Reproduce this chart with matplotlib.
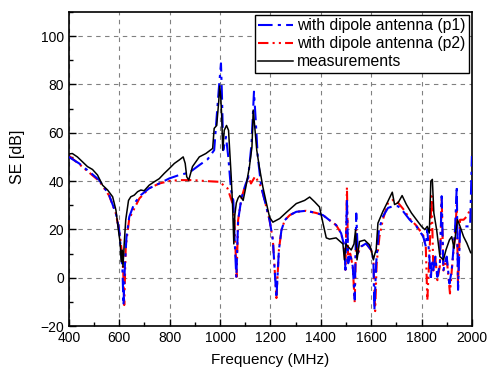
import numpy as np
import matplotlib
matplotlib.use("Agg")
import matplotlib.pyplot as plt
from matplotlib.ticker import MultipleLocator

plt.rcParams['font.family'] = ['Liberation Sans', 'DejaVu Sans']

# measurements (black)
meas_f = [400, 414, 434, 454, 474, 494, 514, 534, 554, 574, 587, 597, 604, 608, 612, 615,
          620, 626, 637, 646, 660, 673, 686, 699, 719, 739, 759, 779, 799, 819, 838, 854,
          862, 868, 876, 891, 918, 944, 971, 977, 987, 995, 999, 1003, 1007, 1011, 1017,
          1026, 1034, 1044, 1050, 1055, 1059, 1065, 1072, 1079, 1092, 1103, 1117, 1127,
          1132, 1138, 1146, 1156, 1170, 1184, 1197, 1210, 1237, 1263, 1303, 1336, 1356,
          1376, 1395, 1410, 1422, 1435, 1461, 1488, 1494, 1500, 1508, 1521, 1532, 1538,
          1544, 1554, 1574, 1594, 1602, 1609, 1615, 1620, 1627, 1647, 1667, 1684, 1693,
          1707, 1723, 1740, 1760, 1780, 1800, 1813, 1823, 1831, 1837, 1843, 1849, 1860,
          1873, 1887, 1897, 1911, 1920, 1929, 1937, 1943, 1953, 1967, 1980, 1995]
meas_se = [51.2, 51.4, 50, 48, 46, 44.8, 42.5, 38.3, 36.3, 33.5, 28, 19.7, 14.2, 6.6, 11.4, 4.5,
           14.2, 24, 32, 33.5, 34.2, 35.6, 36.3, 36, 38.3, 39.7, 41, 43.2, 45.2, 47.3, 48.7, 50,
           47.3, 41.8, 40.4, 46, 50, 51.4, 53.5, 61.8, 63, 72.8, 79.3, 75, 66.6, 52.8, 61,
           63, 61, 43, 30, 14, 26, 31, 33, 34, 32, 37.7, 46, 54.2,
           69.4, 62.5, 52.8, 46, 37.7, 31, 25, 23, 24.5, 27, 30.7, 32, 33.4,
           31.4, 29.3, 22, 16.5, 16, 16.5, 14, 7.4, 14, 12.9, 11.5, 14, 19.7,
           7.4, 15, 15.6, 13.6, 11, 7.4, 10, 11.5, 22.6, 27.5, 31.7, 35.4, 30.3,
           31, 34, 30.3, 26.8, 24, 21.25, 19.9, 21.25, 18.5, 40, 40.7, 26.8, 19.9,
           8.75, 7.4, 11.5, 15.7, 17, 12.2, 19.9, 24, 21.25, 17, 14.3, 10.4]

# with dipole antenna (p1), blue
p1_f = [400, 441, 481, 521, 560, 587, 600, 606, 613, 617, 623, 629, 640, 660, 686, 719,
        759, 799, 838, 878, 918, 951, 977, 984, 995, 1004, 1008, 1013, 1024, 1033, 1044,
        1053, 1059, 1065, 1072, 1085, 1098, 1112, 1125, 1135, 1142, 1150, 1164, 1184, 1197,
        1210, 1224, 1234, 1244, 1257, 1277, 1303, 1342, 1382, 1409, 1435, 1461, 1481, 1494,
        1498, 1504, 1509, 1517, 1527, 1535, 1541, 1547, 1560, 1580, 1600, 1609, 1613, 1620,
        1631, 1647, 1667, 1687, 1707, 1727, 1753, 1780, 1807, 1817, 1823, 1831, 1837, 1841,
        1847, 1855, 1863, 1873, 1880, 1887, 1900, 1911, 1920, 1933, 1940, 1945, 1953, 1967,
        1980, 1993, 2000]
p1_se = [50, 47.3, 43.9, 40.4, 34.2, 26.6, 19.7, 12.8, 3.2, -11.3, 6, 17, 25.2, 30.8, 34.2, 37,
         39, 41.1, 42.5, 43.5, 46.6, 49, 52.8, 62.5, 77.6, 88.7, 75, 52.8, 58.3, 50, 36.3,
         32, 14, 0, 23.8, 32.7, 37.5, 41.6, 55, 77, 65, 50, 37.5, 29.3, 23.8,
         15.6, -8.4, 11.5, 19.7, 23.8, 25.9, 27.3, 27.7, 26.8, 25.9, 23.8, 21.8, 18.4, 12.9,
         3.3, 32.7, 6, 10, 4.7, -9, 26.6, 10, 12.9, 14.2, 11.5, 7.4, -13.5, 6,
         19.9, 25.4, 28.9, 29.6, 29.6, 27.5, 24, 21.25, 17, 13, 19.9, 8.75, -1, 7.4,
         3.2, 8.75, 0.4, 6, 33.75, 3.2, 8.75, -2.4, 3.2, 19.9, 37.9, -5, 19.9, 21.25,
         21.25, 21.25, 50.4]

# with dipole antenna (p2), red
p2_f = [400, 441, 481, 521, 560, 587, 602, 610, 616, 620, 626, 640, 680, 719, 759, 799,
        838, 891, 944, 997, 1030, 1050, 1057, 1066, 1072, 1085, 1098, 1114, 1123, 1140,
        1164, 1184, 1197, 1210, 1224, 1234, 1244, 1257, 1277, 1303, 1342, 1382, 1409,
        1435, 1461, 1481, 1494, 1498, 1504, 1509, 1517, 1527, 1535, 1541, 1547, 1560,
        1580, 1600, 1609, 1616, 1622, 1633, 1646, 1666, 1690, 1707, 1727, 1753, 1780,
        1807, 1817, 1823, 1831, 1840, 1847, 1855, 1863, 1873, 1880, 1887, 1900, 1913,
        1920, 1933, 1940, 1945, 1953, 1967, 1980, 1993]
p2_se = [50.5, 47, 43.5, 40, 34, 26.5, 18.5, 11, 3, -11.3, 12.8, 24.5, 32.8, 37, 39, 40,
         40.4, 40.4, 40, 39.7, 37, 30.8, 25, 0.4, 23.8, 32.7, 37.5, 41.8, 39, 42,
         37.5, 29.3, 23.8, 15.6, -8.4, 11.5, 19.7, 23.8, 25.9, 27.3, 27.7, 26.8, 25.9,
         23.8, 21.8, 18.4, 12.9, 3.3, 37.5, 6, 10, 4.7, -10.4, 20, 10, 12.9,
         14.2, 11.5, 7.4, -13.8, 6, 17, 23.8, 30.7, 32.4, 31, 28.5, 24.5, 21.5,
         17.5, 13, -9.3, 8, 33.75, 3, 8, -1, 5, 33, 3, 8, -6.5,
         3, 18, 30, -4, 24, 24, 25.4, 28.2]

fig = plt.figure(figsize=(4.88, 3.71), dpi=100)
ax = fig.add_axes([0.141, 0.121, 0.826, 0.847])

ax.plot(p1_f, p1_se, color='blue', lw=1.5, ls=(0, (7, 2.5, 1.5, 2.5)),
        label='with dipole antenna (p1)', zorder=3)
ax.plot(p2_f, p2_se, color='red', lw=1.5, ls=(0, (5, 2, 1, 2, 1, 2)),
        label='with dipole antenna (p2)', zorder=2)
ax.plot(meas_f, meas_se, color='black', lw=1.1, label='measurements', zorder=4)

ax.set_xlim(400, 2000)
ax.set_ylim(-20, 110)
ax.xaxis.set_major_locator(MultipleLocator(200))
ax.xaxis.set_minor_locator(MultipleLocator(100))
ax.yaxis.set_major_locator(MultipleLocator(20))
ax.yaxis.set_minor_locator(MultipleLocator(10))
ax.tick_params(which='both', direction='in', labelsize=10, width=1)
ax.tick_params(which='major', length=5)
ax.tick_params(which='minor', length=3)
ax.grid(True, which='major', color='gray', ls=(0, (4, 4)), lw=0.8)
for s in ax.spines.values():
    s.set_linewidth(1.2)

ax.set_xlabel('Frequency (MHz)', fontsize=11, labelpad=6)
ax.set_ylabel('SE [dB]', fontsize=11.5, labelpad=12)
ax.yaxis.set_label_coords(-0.108, 0.54)

leg = ax.legend(loc='upper right', fontsize=11.3, handlelength=2.2, fancybox=False,
                framealpha=1, edgecolor='black', borderpad=0.2, labelspacing=0.2,
                handletextpad=0.3, borderaxespad=0.2, handleheight=0.7)
leg.get_frame().set_linewidth(1)

fig.savefig('out.png', dpi=100)
